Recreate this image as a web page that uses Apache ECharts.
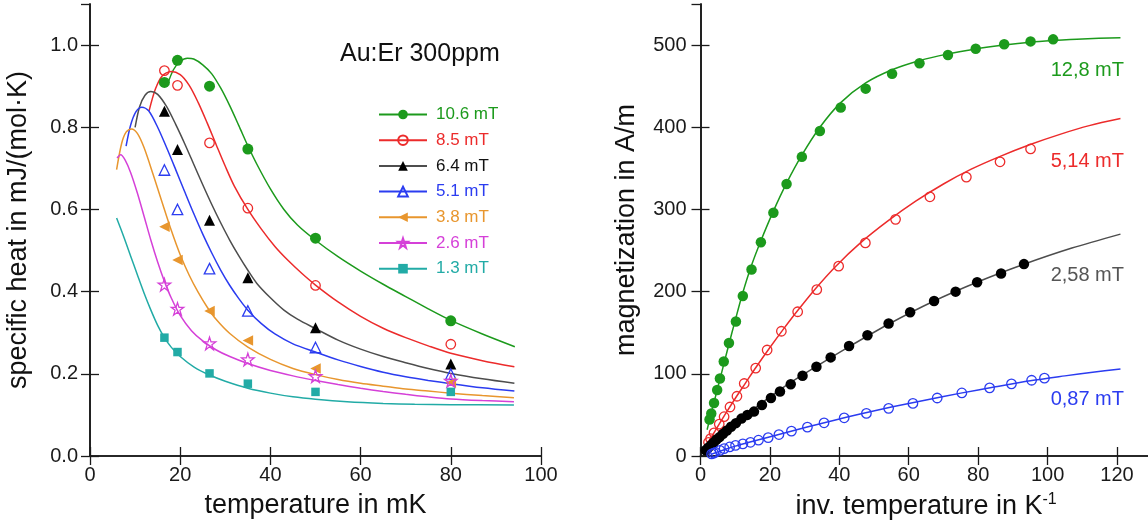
<!DOCTYPE html>
<html><head><meta charset="utf-8">
<script src="https://cdn.jsdelivr.net/npm/echarts@6/dist/echarts.min.js"></script>
<style>html,body{margin:0;padding:0;background:#fff}#c{width:1148px;height:525px}</style>
</head><body><div id="c"></div>
<script>
// ---------- Left panel: specific heat ----------
const heatTemps = [16.5, 19.4, 26.5, 35, 50, 80];
const heatNames = ['10.6 mT', '8.5 mT', '6.4 mT', '5.1 mT', '3.8 mT', '2.6 mT', '1.3 mT'];
const heat106 = [0.909, 0.963, 0.900, 0.747, 0.530, 0.329];
const heat85  = [0.938, 0.902, 0.762, 0.603, 0.415, 0.272];
const heat64  = [0.839, 0.746, 0.574, 0.434, 0.312, 0.224];
const heat51  = [0.696, 0.600, 0.456, 0.353, 0.264, 0.199];
const heat38  = [0.558, 0.477, 0.353, 0.281, 0.213, 0.178];
const heat26  = [0.417, 0.358, 0.274, 0.235, 0.194, 0.183];
const heat13  = [0.288, 0.253, 0.201, 0.176, 0.156, 0.156];

const fit106 = [[17.2,0.905],[18.5,0.94],[20,0.96],[21.6,0.968],[23,0.966],[25,0.952],[27,0.93],[29,0.895],[31,0.852],[33,0.804],[35,0.755],[37,0.71],[40,0.65],[43,0.6],[46,0.562],[50,0.525],[55,0.485],[60,0.45],[65,0.418],[70,0.388],[75,0.358],[80,0.33],[87,0.297],[94.2,0.266]];
const fit85  = [[13.1,0.84],[14.5,0.893],[16,0.925],[18,0.936],[20,0.928],[22,0.902],[24,0.86],[26,0.81],[28,0.757],[30,0.705],[32,0.657],[35,0.6],[38,0.552],[41,0.51],[44,0.475],[47,0.444],[50,0.416],[55,0.375],[60,0.34],[65,0.311],[70,0.288],[75,0.268],[80,0.25],[87,0.232],[94.1,0.217]];
const fit64  = [[10,0.80],[11,0.85],[12.2,0.878],[13.5,0.887],[15,0.88],[17,0.85],[19,0.807],[21,0.76],[23,0.71],[25,0.66],[27,0.612],[29,0.567],[31,0.525],[33,0.487],[35,0.452],[37,0.42],[40,0.385],[43,0.355],[46,0.333],[50,0.31],[55,0.282],[60,0.26],[65,0.242],[70,0.227],[75,0.213],[80,0.201],[87,0.188],[94.1,0.177]];
const fit51  = [[8,0.754],[9,0.805],[10.2,0.838],[11.5,0.849],[13,0.84],[15,0.8],[17,0.75],[19,0.697],[21,0.643],[23,0.59],[25,0.54],[27,0.494],[29,0.452],[31,0.415],[33,0.383],[35,0.355],[38,0.322],[41,0.297],[45,0.273],[50,0.253],[55,0.234],[60,0.218],[65,0.204],[70,0.193],[75,0.184],[80,0.176],[87,0.166],[94.1,0.158]];
const fit38  = [[5.9,0.697],[7,0.76],[8,0.788],[9.2,0.796],[10.5,0.785],[12,0.75],[14,0.685],[16,0.617],[18,0.55],[20,0.49],[22,0.44],[24,0.398],[26,0.362],[28,0.332],[31,0.298],[35,0.265],[40,0.235],[45,0.213],[50,0.198],[55,0.186],[60,0.177],[65,0.17],[70,0.163],[75,0.158],[80,0.153],[87,0.147],[94,0.142]];
const fit26  = [[6,0.725],[6.8,0.733],[7.8,0.72],[9,0.69],[10.5,0.64],[12,0.583],[13.5,0.525],[15,0.472],[16.5,0.425],[18,0.385],[20,0.342],[22.5,0.305],[25,0.28],[28,0.258],[31,0.242],[35,0.225],[40,0.208],[45,0.195],[50,0.184],[55,0.174],[60,0.165],[65,0.157],[70,0.15],[75,0.144],[80,0.139],[87,0.135],[94,0.132]];
const fit13  = [[5.9,0.579],[7.5,0.533],[9,0.487],[10.5,0.441],[12,0.396],[13.5,0.355],[15,0.318],[16.5,0.288],[18,0.265],[20,0.242],[23,0.217],[26.5,0.197],[30,0.182],[35,0.165],[40,0.153],[45,0.144],[50,0.138],[57,0.132],[65,0.128],[72,0.126],[80,0.125],[94,0.124]];

const xTicksLeft = [0, 20, 40, 60, 80, 100];
const yTicksLeft = [0.0, 0.2, 0.4, 0.6, 0.8, 1.0];

// ---------- Right panel: magnetization ----------
const magNames = ['12,8 mT', '5,14 mT', '2,58 mT', '0,87 mT'];
const mag128 = [[2.6,44.5],[3.1,51.8],[3.9,64.5],[4.8,80.4],[5.6,94.3],[6.7,115],[8.2,137.6],[10.2,163.7],[12.2,194.7],[14.7,227],[17.4,260],[21.0,296],[24.8,331],[29.2,364],[34.4,395.5],[40.4,424],[47.6,447],[55.2,465],[63.1,478],[71.3,488],[79.3,495.5],[87.5,501],[95.1,504.5],[101.6,507]];
const mag514 = [[2.3,16.7],[2.9,21.2],[3.9,28.2],[5.4,38.8],[6.8,47.8],[8.5,59.6],[10.5,72.7],[12.6,88.2],[15.9,107],[19.2,129],[23.3,151.8],[28.0,175.5],[33.5,202.4],[39.8,231],[47.5,259.3],[56.2,288],[66.1,315.4],[76.6,339.4],[86.3,358],[95.1,373.6]];
const mag258 = [[1.5,7],[2.2,10],[3.0,13],[3.8,16.5],[4.6,20],[5.5,23],[6.5,27],[7.6,31],[8.8,35.5],[10.2,40],[11.8,45.5],[13.5,50],[15.4,54],[17.7,62],[20.3,70.6],[22.9,78.4],[26.0,87.3],[29.4,97.6],[33.4,108.6],[37.5,120],[42.8,133.9],[48.1,147],[54.2,161.2],[60.4,175],[67.3,188.6],[73.5,200],[79.7,211.4],[86.6,222],[93.2,233.5]];
const mag087 = [[3.2,2.5],[3.8,3.5],[4.3,4.5],[5.6,6.9],[6.8,9],[8.4,11],[10.1,13],[12.2,14.7],[14.4,16.7],[16.7,19.2],[19.5,22.4],[22.6,26.1],[26.2,30.2],[30.8,35.1],[35.6,40.4],[41.4,46.5],[47.8,51.8],[54.2,58],[61.2,64],[68.2,70.6],[75.3,76.7],[83.3,82.9],[89.6,87.8],[95.4,92.2],[99.1,94.7]];

const magFit128 = [[1.9,32],[4,67],[6,100],[8,133],[10,165],[12,196],[14.7,232],[17.4,262],[21,298],[24.8,332],[29.2,366],[34.4,400],[40.4,430],[47.6,454],[55.2,470],[63,481],[71,489],[79,495],[87.5,500],[95,503.5],[101.6,505.5],[110,507.5],[121,509]];
const magFit514 = [[1.8,14],[4,29],[7,50],[10,70],[13,89],[16,108],[20,132],[24,155],[28,177],[33,203],[39,231],[46,259],[54,286],[62,310],[70,331],[78,349],[86,364],[95,379],[104,392],[112,402],[121,410.6]];
const magFit258 = [[0.8,3],[3,12],[6,23.5],[10,38.5],[15,56],[20,72],[26,89.5],[33,108],[42,131],[54,160],[67,188],[80,212],[93,233],[107,253],[121,270]];
const magFit087 = [[3,2],[5,5],[7,8],[10,12],[14,16.7],[19,22.3],[25,29],[31,35.6],[38,43],[46,51],[55,59.5],[65,68.2],[75,76.5],[85,84.2],[95,91.5],[105,97.5],[113,102],[121,106]];

const xTicksRight = [0, 20, 40, 60, 80, 100, 120];
const yTicksRight = [0, 100, 200, 300, 400, 500];

// ---------- styling ----------
const FONT = 'Liberation Sans, Arial, Helvetica, sans-serif';
const AX = '#1a1a1a';
const C = {green:'#1c9a1c', red:'#ec2b2b', black:'#000000', grey:'#4d4d4d', blue:'#2b3cf0', orange:'#e8962e', magenta:'#d540d8', cyan:'#22aba6'};
const STAR = 'path://M50,0 L61.8,35.1 L98.9,35.1 L68.9,57 L80.3,92.6 L50,70.9 L19.7,92.6 L31.1,57 L1.1,35.1 L38.2,35.1 Z';

const leftStyles = [
  {name: heatNames[0], color: C.green,   line: C.green,   symbol: 'circle',   size: 11, open: false, rot: 0, pts: heat106, fit: fit106},
  {name: heatNames[1], color: C.red,     line: C.red,     symbol: 'circle',   size: 9.5, open: true, rot: 0, pts: heat85, fit: fit85},
  {name: heatNames[2], color: C.black,   line: C.grey,    symbol: 'triangle', size: 11, open: false, rot: 0, pts: heat64, fit: fit64},
  {name: heatNames[3], color: C.blue,    line: C.blue,    symbol: 'triangle', size: 10.5, open: true, rot: 0, pts: heat51, fit: fit51},
  {name: heatNames[4], color: C.orange,  line: C.orange,  symbol: 'triangle', size: 10.5, open: false, rot: 90, pts: heat38, fit: fit38},
  {name: heatNames[5], color: C.magenta, line: C.magenta, symbol: STAR,       size: 12.5, open: true, rot: 0, pts: heat26, fit: fit26},
  {name: heatNames[6], color: C.cyan,    line: C.cyan,    symbol: 'rect',     size: 8.5, open: false, rot: 0, pts: heat13, fit: fit13}
];

function itemStyleFor(s) {
  return s.open ? {color: 'rgba(255,255,255,0)', borderColor: s.color, borderWidth: 1.3, opacity: 1}
                : {color: s.color, borderWidth: 0, opacity: 1};
}

const SMOOTH = 0.3;
const series = [];
leftStyles.forEach(s => {
  series.push({
    type: 'line', name: s.name, xAxisIndex: 0, yAxisIndex: 0,
    data: s.fit, showSymbol: false, symbol: s.symbol, symbolRotate: s.rot,
    smooth: SMOOTH,
    lineStyle: {color: s.line, width: 1.5}, itemStyle: itemStyleFor(s),
    z: 2, silent: true
  });
});
leftStyles.forEach(s => {
  series.push({
    type: 'scatter', name: s.name, xAxisIndex: 0, yAxisIndex: 0,
    data: heatTemps.map((t, i) => [t, s.pts[i]]),
    symbol: s.symbol, symbolSize: s.size, symbolRotate: s.rot,
    itemStyle: itemStyleFor(s), z: 3, silent: true
  });
});

const rightStyles = [
  {name: magNames[0], color: C.green, line: C.green, open: false, size: 10.5, pts: mag128, fit: magFit128},
  {name: magNames[1], color: C.red,   line: C.red,   open: true,  size: 9.5,  pts: mag514, fit: magFit514},
  {name: magNames[2], color: C.black, line: C.grey,  open: false, size: 10.5, pts: mag258, fit: magFit258},
  {name: magNames[3], color: C.blue,  line: C.blue,  open: true,  size: 9.5,  pts: mag087, fit: magFit087}
];
rightStyles.forEach(s => {
  series.push({
    type: 'line', name: 'fit ' + s.name, xAxisIndex: 2, yAxisIndex: 2,
    data: s.fit, showSymbol: false, symbol: 'none', smooth: SMOOTH,
    lineStyle: {color: s.line, width: 1.5}, z: 2, silent: true
  });
  series.push({
    type: 'scatter', name: s.name, xAxisIndex: 2, yAxisIndex: 2,
    data: s.pts, symbol: 'circle', symbolSize: s.size,
    itemStyle: itemStyleFor(s), z: 3, silent: true
  });
});

const tickStyle = {show: true, inside: true, length: 9, lineStyle: {color: AX, width: 1.3}};
const lineStyleAx = {show: true, lineStyle: {color: AX, width: 1.6}};
const labelStyle = {color: '#1a1a1a', fontSize: 20, fontFamily: FONT};

function xAxisDef(grid, min, max, interval, pos, main, name, ticks) {
  return {
    type: 'value', gridIndex: grid, min: min, max: max, interval: interval, position: pos,
    axisLine: lineStyleAx, axisTick: tickStyle, splitLine: {show: false},
    axisLabel: main ? Object.assign({show: true, margin: 9, showMaxLabel: ticks.indexOf(max) >= 0,
        formatter: v => (ticks.indexOf(v) >= 0 ? String(v) : '')}, labelStyle) : {show: false},
    name: main ? name : '', nameLocation: 'middle', nameGap: 36,
    nameTextStyle: {fontSize: 27, color: '#111', fontFamily: FONT,
      rich: {sup: {fontSize: 16, verticalAlign: 'top', color: '#111', fontFamily: FONT, padding: [0,0,14,0]}}}
  };
}
function yAxisDef(grid, min, max, interval, pos, main, name, ticks, fmt, gap, margin) {
  return {
    type: 'value', gridIndex: grid, min: min, max: max, interval: interval, position: pos,
    axisLine: lineStyleAx, axisTick: tickStyle, splitLine: {show: false},
    axisLabel: main ? Object.assign({show: true, margin: margin, showMaxLabel: false,
        formatter: v => (ticks.some(t => Math.abs(t - v) < 1e-9) ? fmt(v) : '')}, labelStyle) : {show: false},
    name: main ? name : '', nameLocation: 'middle', nameGap: gap,
    nameTextStyle: {fontSize: 27, color: '#111', fontFamily: FONT}
  };
}

const option = {
  animation: false,
  backgroundColor: '#ffffff',
  textStyle: {fontFamily: FONT},
  grid: [
    {left: 90, right: 607, top: 4, bottom: 69, containLabel: false, outerBoundsMode: 'none'},
    {left: 700.5, right: -3.7, top: 4, bottom: 69, containLabel: false, outerBoundsMode: 'none'}
  ],
  xAxis: [
    xAxisDef(0, 0, 100, 20, 'bottom', true, 'temperature in mK', xTicksLeft),
    xAxisDef(0, 0, 100, 20, 'top', false, '', xTicksLeft),
    xAxisDef(1, 0, 130, 20, 'bottom', true, 'inv. temperature in K{sup|-1}', xTicksRight),
    xAxisDef(1, 0, 130, 20, 'top', false, '', xTicksRight)
  ],
  yAxis: [
    yAxisDef(0, 0, 1.1, 0.2, 'left', true, 'specific heat in mJ/(mol\u00B7K)', yTicksLeft, v => v.toFixed(1), 58, 12),
    yAxisDef(0, 0, 1.1, 0.2, 'right', false, '', yTicksLeft, v => v, 0, 0),
    yAxisDef(1, 0, 550, 100, 'left', true, 'magnetization in A/m', yTicksRight, v => String(v), 60, 14),
    yAxisDef(1, 0, 550, 100, 'right', false, '', yTicksRight, v => v, 0, 0)
  ],
  legend: {
    show: true, orient: 'vertical', left: 373, top: 101,
    itemWidth: 48, itemHeight: 12, itemGap: 8.7,
    data: leftStyles.map(s => ({name: s.name, textStyle: {color: s.color === C.black ? '#111' : s.color}})),
    textStyle: {fontSize: 17, fontFamily: FONT, lineHeight: 12, padding: [0, 0, 0, 4]},
    selectedMode: false
  },
  graphic: [
    {type: 'text', left: 340, top: 42, style: {text: 'Au:Er 300ppm', font: '25px ' + FONT, fill: '#111'}},
    {type: 'text', right: 24, top: 60, style: {text: magNames[0], font: '20px ' + FONT, fill: C.green}},
    {type: 'text', right: 24, top: 151, style: {text: magNames[1], font: '20px ' + FONT, fill: C.red}},
    {type: 'text', right: 24, top: 265, style: {text: magNames[2], font: '20px ' + FONT, fill: '#555555'}},
    {type: 'text', right: 24, top: 389, style: {text: magNames[3], font: '20px ' + FONT, fill: C.blue}}
  ],
  series: series
};

const chart = echarts.init(document.getElementById('c'), null, {renderer: 'canvas'});
chart.setOption(option);
</script>
</body></html>
